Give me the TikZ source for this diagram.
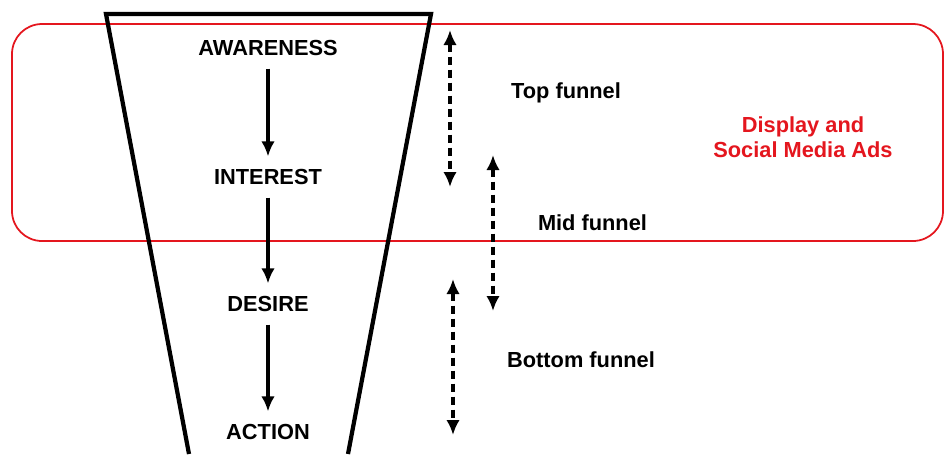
\documentclass[tikz,border=0pt]{standalone}
\usepackage{fontspec}
\usetikzlibrary{arrows.meta}
\setmainfont{Liberation Sans}
\definecolor{adsred}{RGB}{228,22,30}

\begin{document}
\begin{tikzpicture}[
    every node/.style={
        font=\fontsize{12.4}{14.5}\selectfont\bfseries,
        align=center
    },
    stage/.style={inner sep=0.25cm},
    flow/.style={->,line width=2pt},
    span/.style={<->,line width=2.2pt,dash pattern=on 0.17cm off 0.09cm},
    funnel/.style={line width=2.4pt,line join=miter},
    adsbox/.style={draw=adsred,line width=1pt,rounded corners=0.6cm},
    >={Latex[length=0.3cm,width=0.27cm]}
]
\useasboundingbox (0,0) rectangle (18.9,-9.08);

% Ads area
\draw[adsbox] (0.24,-0.48) rectangle (18.86,-4.82);

% Funnel
\draw[funnel] (3.78,-9.08) -- (2.12,-0.28) -- (8.62,-0.28) -- (6.96,-9.08);

% Stages
\node[stage] (awareness) at (5.36,-0.96) {AWARENESS};
\node[stage] (interest) at (5.36,-3.54) {INTEREST};
\node[stage] (desire) at (5.36,-6.08) {DESIRE};
\node[stage] (action) at (5.36,-8.64) {ACTION};

% Stage flow
\draw[flow] (awareness.south) -- (interest.north);
\draw[flow] (interest.south) -- (desire.north);
\draw[flow] (desire.south) -- (action.north);

% Ranges
\coordinate (top_a) at (9.0,-0.6);
\coordinate (top_b) at (9.0,-3.74);
\coordinate (mid_a) at (9.86,-3.1);
\coordinate (mid_b) at (9.86,-6.22);
\coordinate (bot_a) at (9.06,-5.58);
\coordinate (bot_b) at (9.06,-8.7);

\draw[span] (top_a) -- (top_b);
\draw[span] (mid_a) -- (mid_b);
\draw[span] (bot_a) -- (bot_b);

% Labels
\node (top_lbl) at (11.32,-1.86) {Top funnel};
\node (mid_lbl) at (11.85,-4.46) {Mid funnel};
\node (bot_lbl) at (11.62,-7.2) {Bottom funnel};
\node[text=adsred] (ads_lbl) at (16.06,-2.74) {Display and\\Social Media Ads};

\end{tikzpicture}
\end{document}
